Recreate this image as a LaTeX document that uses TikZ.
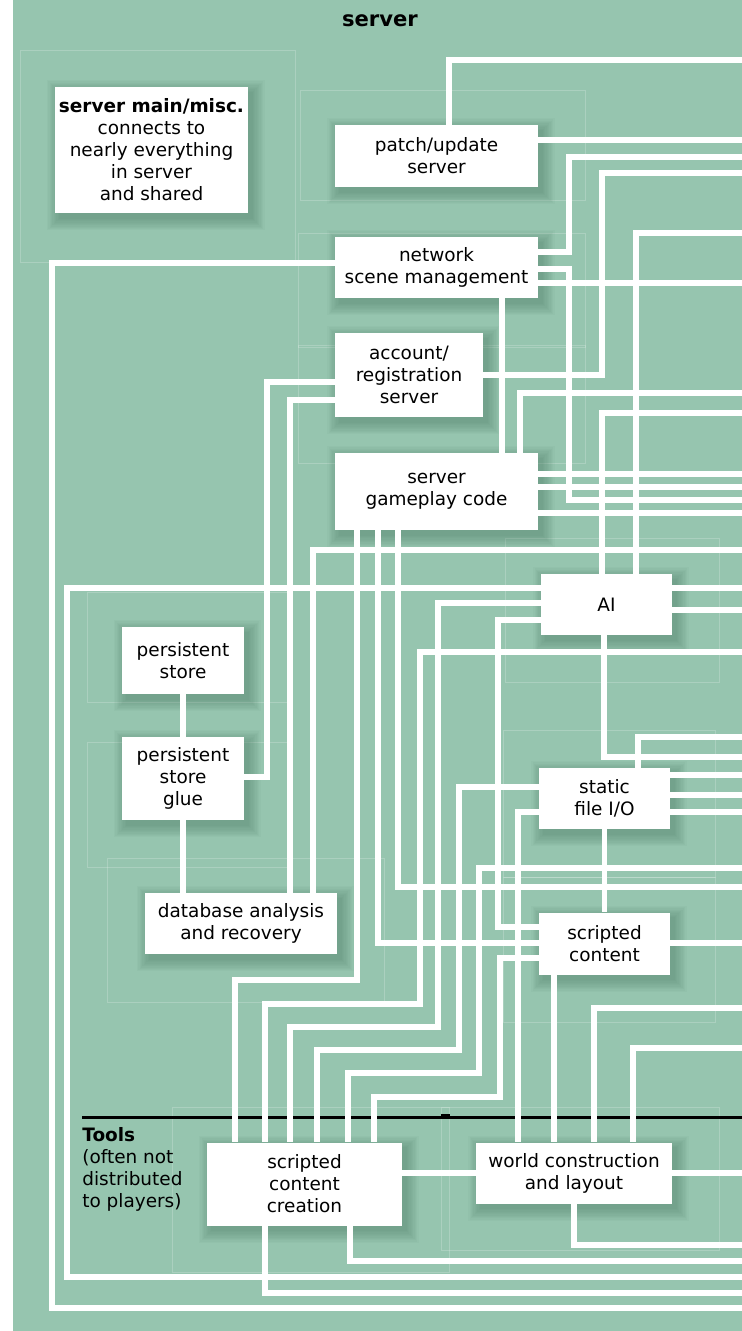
\documentclass[tikz,border=0pt]{standalone}
\usepackage{fontspec}
\setmainfont{DejaVu Sans}
\definecolor{salbei}{HTML}{96C5AF}
\definecolor{salbeid}{HTML}{3F6F58}
\pgfdeclarelayer{hinten}
\pgfdeclarelayer{draehte}
\pgfsetlayers{hinten,draehte,main}
\tikzset{
  kasten/.style={fill=white,inner sep=0pt,align=center,font=\fontsize{10.5}{12.5}\selectfont},
  draht/.style={white,line width=2.9pt},
  gruppe/.style={draw=white,draw opacity=0.2,line width=0.3pt},
  schatten/.style={fill=salbeid,fill opacity=0.045},
}

\begin{document}
\begin{tikzpicture}[x=0.2mm,y=-0.2mm]
  \useasboundingbox (0,0) rectangle (742,1331);
  % --- Hintergrund ---
  \begin{pgfonlayer}{hinten}
    \fill[salbei] (13,0) rectangle (742,1331);
    \draw[gruppe] (20,50) rectangle (295,262);
    \draw[gruppe] (300,90) rectangle (585,200);
    \draw[gruppe] (298,233) rectangle (585,347);
    \draw[gruppe] (298,345) rectangle (585,463);
    \draw[gruppe] (505,538) rectangle (719,682);
    \draw[gruppe] (87,592) rectangle (287,702);
    \draw[gruppe] (87,742) rectangle (287,867);
    \draw[gruppe] (503,730) rectangle (715,877);
    \draw[gruppe] (503,877) rectangle (715,1022);
    \draw[gruppe] (107,858) rectangle (384,1002);
    \draw[gruppe] (172,1107) rectangle (449,1272);
    \draw[gruppe] (441,1107) rectangle (719,1250);
    \draw[line width=1.7pt] (82,1117) -- (742,1117);
  \end{pgfonlayer}
  \fill (441,1114) rectangle (450,1119);

  % --- Titel ---
  \node[font=\fontsize{12}{14}\selectfont\bfseries] (titel) at (380,21) {server};

  % --- Kaesten ---
  \node[kasten,minimum width=38.6mm,minimum height=25.2mm] (misc) at (151.5,150)
    {\textbf{server main/misc.}\\connects to\\nearly everything\\in server\\and shared};
  \node[kasten,minimum width=40.6mm,minimum height=12.4mm] (patch) at (436.5,156) {patch/update\\server};
  \node[kasten,minimum width=40.6mm,minimum height=12.2mm] (net) at (436.5,267.5) {network\\scene management};
  \node[kasten,minimum width=29.6mm,minimum height=16.8mm] (acct) at (409,375) {account/\\registration\\server};
  \node[kasten,minimum width=40.6mm,minimum height=15.4mm] (game) at (436.5,491.5) {server\\gameplay code};
  \node[kasten,minimum width=26.2mm,minimum height=12.2mm] (ai) at (606.5,604.5) {AI};
  \node[kasten,minimum width=24.4mm,minimum height=13.4mm] (pstore) at (183,660.5) {persistent\\store};
  \node[kasten,minimum width=24.4mm,minimum height=16.6mm] (glue) at (183,778.5) {persistent\\store\\glue};
  \node[kasten,minimum width=26.2mm,minimum height=12.2mm] (sfio) at (604.5,798.5) {static\\file I/O};
  \node[kasten,minimum width=38.4mm,minimum height=12.2mm] (db) at (241,923.5) {database analysis\\and recovery};
  \node[kasten,minimum width=26.2mm,minimum height=12.4mm] (sc) at (604.5,943.5) {scripted\\content};
  \node[kasten,minimum width=39mm,minimum height=16.6mm] (scc) at (304.5,1184) {scripted\\content\\creation};
  \node[kasten,minimum width=39.2mm,minimum height=12.2mm] (wcl) at (574,1173) {world construction\\and layout};
  \node[anchor=north west,inner sep=0pt,align=left,font=\fontsize{10.5}{12.5}\selectfont] (tools) at (82,1127)
    {\textbf{Tools}\\(often not\\distributed\\to players)};

  % --- Enden am rechten Rand ---
  \foreach \y in {60,140,157,173,233,283,393,413,474,487,500,513,550,588,610,652,737,757,
                  775,795,812,868,887,943,1008,1048,1173,1245,1261,1277,1293,1308}
    \coordinate (r\y) at (742,\y);

  % --- Draehte ---
  \begin{pgfonlayer}{draehte}
    \draw[draht] (patch.north -| 449,0) |- (r60);
    \draw[draht] (patch.east |- 0,140) -- (r140);
    \draw[draht] (net.east |- 0,252) -| (569,157) -- (r157);
    \draw[draht] (net.east |- 0,269) -| (569,500) -- (r500);
    \draw[draht] (net.west |- 0,263) -| (52,1308) -- (r1308);
    \draw[draht] (game.north -| 502,0) |- (r283);
    \draw[draht] (game.north -| 520,0) |- (r393);
    \draw[draht] (acct.east |- 0,375) -| (602,173) -- (r173);
    \draw[draht] (acct.west |- 0,382) -| (267,777) -- (glue.east |- 0,777);
    \draw[draht] (acct.west |- 0,400) -| (db.north -| 290,0);
    \foreach \y in {474,487,513}
      \draw[draht] (game.east |- 0,\y) -- (r\y);
    \draw[draht] (game.south -| 357,0) |- (235,980) -- (scc.north -| 235,0);
    \draw[draht] (game.south -| 378,0) |- (sc.west |- 0,943);
    \draw[draht] (sc.east |- 0,943) -- (r943);
    \draw[draht] (game.south -| 398,0) |- (r887);
    \draw[draht] (db.north -| 313,0) |- (r550);
    % AI
    \draw[draht] (ai.north -| 602,0) |- (r413);
    \draw[draht] (ai.north -| 636,0) |- (r233);
    \foreach \y in {588,610}
      \draw[draht] (ai.east |- 0,\y) -- (r\y);
    \draw[draht] (ai.west |- 0,588) -| (67,1277) -- (r1277);
    \draw[draht] (ai.west |- 0,603) -| (438,1027) -| (scc.north -| 290,0);
    \draw[draht] (ai.west |- 0,620) -| (498,927) -- (sc.west |- 0,927);
    \draw[draht] (ai.south -| 604,0) |- (r757);
    % persistent store
    \draw[draht] (pstore) -- (glue);
    \draw[draht] (glue) -- (glue |- db.north);
    % static file I/O
    \draw[draht] (sfio.north -| 638,0) |- (r737);
    \foreach \y in {775,795,812}
      \draw[draht] (sfio.east |- 0,\y) -- (r\y);
    \draw[draht] (sfio.west |- 0,787) -| (459,1050) -| (scc.north -| 317,0);
    \draw[draht] (sfio.west |- 0,812) -| (wcl.north -| 518,0);
    \draw[draht] (sfio) -- (sc);
    % scripted content
    \draw[draht] (r868) -| (479,1073) -| (scc.north -| 348,0);
    \draw[draht] (sc.west |- 0,958) -| (500,1097) -| (scc.north -| 374,0);
    \draw[draht] (sc.south -| 554,0) -- (wcl.north -| 554,0);
    % Tools
    \draw[draht] (scc.north -| 265,0) |- (420,1004) |- (r652);
    \draw[draht] (wcl.north -| 594,0) |- (r1008);
    \draw[draht] (wcl.north -| 633,0) |- (r1048);
    \draw[draht] (scc.east |- 0,1173) -- (wcl.west |- 0,1173);
    \draw[draht] (wcl.east |- 0,1173) -- (r1173);
    \draw[draht] (wcl.south -| 574,0) |- (r1245);
    \draw[draht] (scc.south -| 350,0) |- (r1261);
    \draw[draht] (scc.south -| 265,0) |- (r1293);
  \end{pgfonlayer}

  % --- Schatten ---
  \begin{pgfonlayer}{hinten}
    \foreach \n in {misc,patch,net,acct,game,ai,pstore,glue,sfio,db,sc,scc,wcl}
      \foreach \r in {0,1,...,9}
        \fill[schatten] ([shift={(2.5pt-\r*0.75pt,-3pt-\r*0.75pt)}]\n.south west)
          rectangle ([shift={(2.5pt+\r*0.75pt,-3pt+\r*0.75pt)}]\n.north east);
  \end{pgfonlayer}
\end{tikzpicture}
\end{document}
